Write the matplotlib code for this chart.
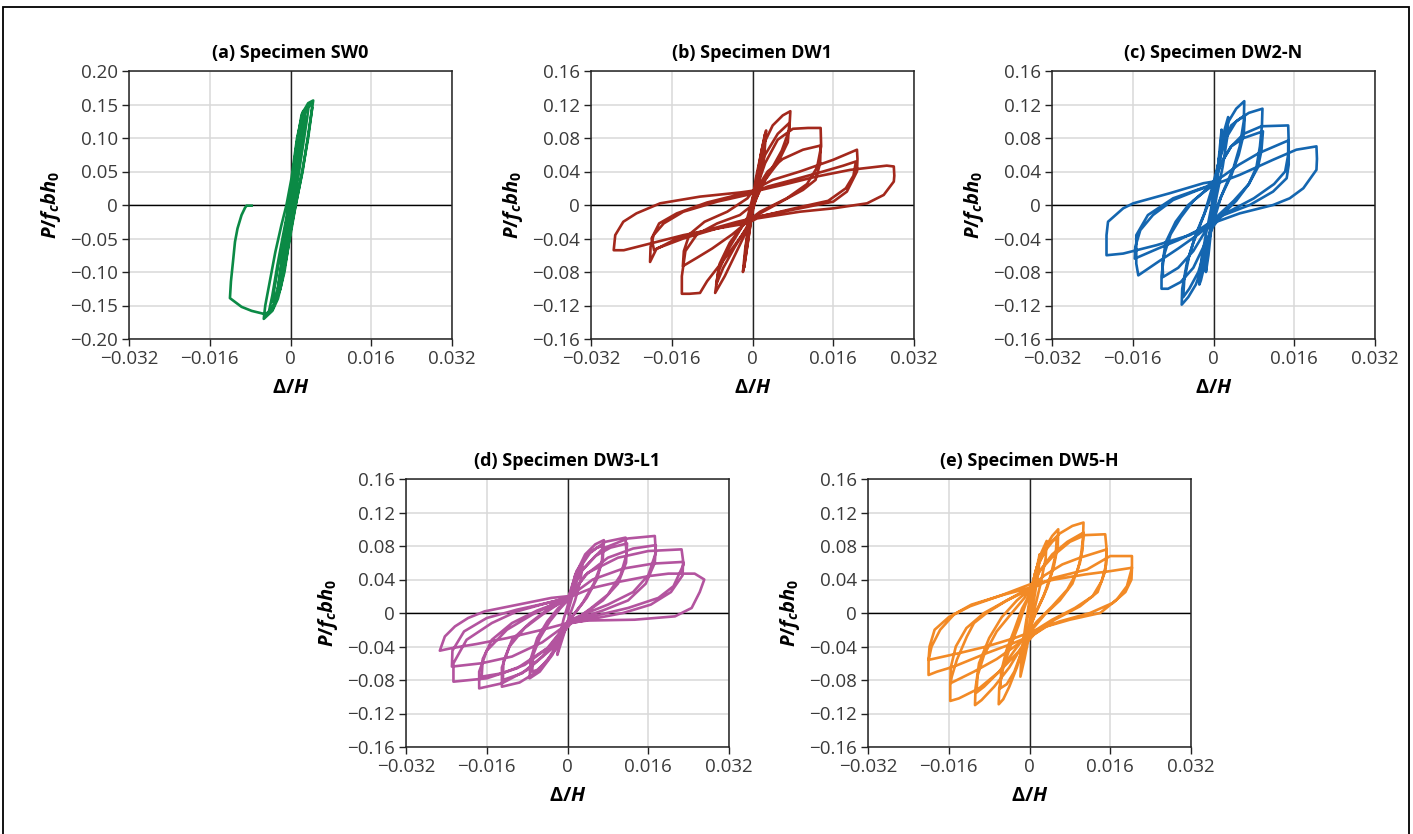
import numpy as np
import matplotlib
matplotlib.use("Agg")
import matplotlib.pyplot as plt
from matplotlib.patches import Rectangle

plt.rcParams['font.family'] = ['Open Sans', 'DejaVu Sans']
plt.rcParams['mathtext.fontset'] = 'custom'
plt.rcParams['mathtext.it'] = 'Open Sans:italic:bold'
plt.rcParams['mathtext.rm'] = 'Open Sans:bold'
plt.rcParams['mathtext.bf'] = 'Open Sans:bold'

# drift ratio in thousandths (x 1e-3), normalised load P/(fc b h0)
sw0_x = [0, 0.6, 0.9, 0.5, 0, -0.5, -1.0, -0.6, 0,
         0.8, 1.5, 1.3, 0.6, -0.2, -1.0, -1.7, -1.4, -0.5, 0.2,
         1.0, 1.8, 2.2, 2.0, 1.2, 0.3, -0.6, -1.5, -2.3, -2.5, -2.0, -1.2, -0.3, 0.4,
         1.2, 2.0, 2.8, 2.9, 2.2, 1.4, 0.5, -0.5, -1.5, -2.5, -3.4, -3.3, -2.4, -1.4, -0.5, 0.3,
         1.2, 2.2, 3.3, 3.6, 3.3, 2.5, 1.5, 0.6, -0.3, -1.5, -2.8, -4.0, -4.3, -3.6, -2.6, -1.6, -0.7, 0.2,
         1.2, 2.2, 3.5, 4.5, 4.2, 3.6, 2.4, 1.0, 0.0, -1.2, -2.5, -3.6, -5.3, -5.0, -4.0, -3.0, -1.8, -0.8, 0.2,
         1.3, 2.5, 4.0, 4.3, 3.5, 2.2, 0.8, -0.6, -2.0, -3.5, -5.0,
         -7.7, -9.7, -12.0, -11.8, -11.4, -11.0, -10.5, -9.7, -9.0, -8.7, -7.7]
sw0_y = [0, 0.03, 0.05, 0.03, 0.005, -0.02, -0.045, -0.03, -0.005,
         0.04, 0.08, 0.06, 0.03, -0.01, -0.05, -0.085, -0.065, -0.025, 0.01,
         0.06, 0.1, 0.115, 0.095, 0.055, 0.01, -0.03, -0.075, -0.115, -0.125, -0.1, -0.06, -0.015, 0.02,
         0.07, 0.11, 0.135, 0.125, 0.09, 0.05, 0.005, -0.04, -0.085, -0.125, -0.145, -0.13, -0.09, -0.05, -0.01, 0.025,
         0.08, 0.125, 0.145, 0.148, 0.13, 0.09, 0.04, 0.0, -0.04, -0.095, -0.14, -0.158, -0.16, -0.135, -0.09, -0.05, -0.015, 0.03,
         0.09, 0.135, 0.152, 0.156, 0.14, 0.11, 0.05, 0.0, -0.04, -0.1, -0.14, -0.158, -0.17, -0.15, -0.11, -0.07, -0.03, 0.0, 0.04,
         0.1, 0.14, 0.15, 0.145, 0.1, 0.045, -0.01, -0.07, -0.125, -0.155, -0.163,
         -0.158, -0.152, -0.139, -0.114, -0.085, -0.055, -0.035, -0.015, -0.004, -0.001, -0.001]

dw1_x = [0, 1.0, 2.0, 2.7, 2.4, 1.2, 0, -0.8, -1.6, -1.9, -1.4, -0.4,
         0.8, 1.8, 2.5, 2.2, 1.0, -0.2, -1.2, -1.7, -1.2, -0.2,
         0.6, 2.0, 4.0, 6.0, 7.5, 7.3, 5.8, 3.5, 1.5, 0, -1.5, -3.5, -5.5, -7.4, -6.8, -5.0, -3.0, -1.0,
         0.5, 2.5, 5.0, 7.3, 7.0, 5.0, 2.5, 0.5, -1.0, -3.5, -5.8, -7.2, -6.5, -4.5, -2.0, -0.3,
         0.5, 2.5, 5.0, 8.0, 11.0, 13.5, 13.6, 12.8, 10.8, 6.8, 1.5, 0, -1.1, -5.0, -9.0, -10.4, -12.5, -14.0, -14.0, -13.3, -11.0, -7.0, -2.5, 0,
         0.9, 3.0, 6.0, 10.0, 13.5, 13.4, 12.5, 10.0, 6.0, 1.5, -1.0, -4.0, -8.0, -11.0, -13.8, -13.6, -12.5, -9.5, -5.0, -1.0,
         0.2, 4.0, 9.4, 16.0, 20.7, 20.8, 20.7, 18.7, 16.0, 9.4, 1.0, -1.5, -7.0, -13.7, -19.0, -20.3, -20.2, -19.6, -17.6, -13.7, -7.0, -1.1,
         3.0, 8.0, 14.0, 18.0, 20.5, 20.0, 18.5, 15.0, 9.0, 2.0, -3.0, -9.0, -15.0, -19.5, -20.0, -18.5, -15.0, -9.0, -3.0,
         0.2, 6.0, 12.7, 19.4, 26.6, 28.0, 28.1, 28.0, 26.0, 22.7, 16.0, 9.4, 0.9, -1.1, -7.0, -13.7, -20.3, -25.5, -27.5, -27.2, -25.6, -23.0, -18.3, -10.4, -2.4, 0]
dw1_y = [0, 0.035, 0.07, 0.089, 0.065, 0.025, -0.005, -0.04, -0.072, -0.08, -0.05, -0.01,
         0.03, 0.065, 0.085, 0.06, 0.02, -0.015, -0.055, -0.075, -0.045, -0.005,
         0.03, 0.07, 0.095, 0.107, 0.112, 0.09, 0.065, 0.04, 0.02, -0.005, -0.035, -0.06, -0.085, -0.105, -0.08, -0.055, -0.035, -0.015,
         0.02, 0.06, 0.085, 0.098, 0.075, 0.05, 0.03, 0.005, -0.025, -0.05, -0.075, -0.095, -0.07, -0.045, -0.025, -0.01,
         0.015, 0.05, 0.078, 0.091, 0.092, 0.092, 0.07, 0.045, 0.025, 0.008, -0.008, -0.015, -0.028, -0.06, -0.091, -0.105, -0.106, -0.106, -0.085, -0.055, -0.035, -0.022, -0.012, 0.0,
         0.02, 0.04, 0.055, 0.066, 0.071, 0.05, 0.03, 0.018, 0.005, -0.01, -0.02, -0.035, -0.052, -0.063, -0.073, -0.055, -0.035, -0.02, -0.008, 0.008,
         0.018, 0.03, 0.04, 0.054, 0.066, 0.055, 0.04, 0.016, 0.004, -0.004, -0.014, -0.02, -0.028, -0.04, -0.052, -0.068, -0.05, -0.036, -0.022, -0.008, 0.004, 0.012,
         0.022, 0.03, 0.04, 0.047, 0.052, 0.035, 0.02, 0.005, -0.003, -0.013, -0.02, -0.03, -0.04, -0.054, -0.04, -0.022, -0.01, 0.003, 0.012,
         0.016, 0.024, 0.034, 0.042, 0.047, 0.046, 0.035, 0.028, 0.012, 0.002, -0.004, -0.008, -0.016, -0.022, -0.028, -0.036, -0.046, -0.054, -0.054, -0.036, -0.02, -0.01, 0.002, 0.01, 0.015, 0.017]

dw2_x = [0, 0.8, 1.6, 1.4, 0.5, -0.3, -1.0, -1.5, -1.2, -0.4, 0.3,
         1.2, 2.2, 2.9, 2.7, 1.8, 0.6, -0.5, -1.5, -2.5, -2.8, -2.4, -1.5, -0.5, 0.3,
         1.5, 3.0, 4.5, 6.1, 6.0, 5.2, 4.0, 2.2, 0.5, -0.8, -2.0, -3.5, -5.0, -6.3, -6.2, -5.3, -4.0, -2.4, -0.8, 0.3,
         1.8, 3.5, 5.0, 6.2, 6.0, 5.0, 3.5, 1.5, 0, -1.5, -3.0, -4.8, -6.0, -5.8, -4.8, -3.5, -1.8, -0.3,
         1.0, 2.5, 4.5, 7.0, 9.7, 9.6, 9.2, 8.5, 7.0, 4.5, 2.0, 0, -2.0, -4.0, -6.5, -9.0, -10.3, -10.3, -9.8, -8.5, -6.5, -4.0, -1.5, 0,
         1.5, 3.5, 6.0, 9.8, 9.5, 8.8, 7.0, 4.0, 1.0, -1.5, -4.0, -7.0, -10.0, -10.1, -9.5, -7.5, -5.0, -2.0, 0,
         1.5, 3.5, 6.0, 9.5, 14.8, 14.9, 14.9, 14.5, 11.8, 7.2, 2.0, 0, -3.0, -7.0, -11.0, -14.9, -15.3, -15.3, -13.0, -8.0, -1.4,
         2.0, 5.0, 9.0, 14.8, 14.8, 14.2, 12.0, 8.0, 3.0, 0, -3.0, -7.0, -11.0, -15.6, -15.5, -14.5, -12.0, -8.0, -3.0, 0,
         5.2, 11.8, 16.4, 20.4, 20.5, 20.4, 17.8, 15.1, 11.8, 5.2, 0.6, -4.7, -11.3, -17.9, -21.2, -21.2, -20.9, -17.9, -15.9, -8.7, -2.0, 0]
dw2_y = [0, 0.04, 0.09, 0.06, 0.02, -0.02, -0.06, -0.08, -0.055, -0.015, 0.02,
         0.06, 0.09, 0.105, 0.08, 0.045, 0.01, -0.03, -0.065, -0.09, -0.095, -0.065, -0.035, -0.005, 0.025,
         0.07, 0.1, 0.115, 0.124, 0.1, 0.07, 0.045, 0.02, -0.005, -0.035, -0.07, -0.095, -0.11, -0.119, -0.1, -0.07, -0.045, -0.02, 0.005, 0.03,
         0.07, 0.095, 0.102, 0.107, 0.085, 0.06, 0.035, 0.01, -0.02, -0.05, -0.08, -0.1, -0.11, -0.09, -0.06, -0.035, -0.01, 0.02,
         0.05, 0.08, 0.1, 0.11, 0.115, 0.095, 0.07, 0.045, 0.025, 0.005, -0.01, -0.025, -0.05, -0.075, -0.092, -0.1, -0.1, -0.085, -0.06, -0.035, -0.015, 0.005, 0.018, 0.025,
         0.05, 0.07, 0.08, 0.088, 0.065, 0.045, 0.025, 0.005, -0.012, -0.03, -0.055, -0.075, -0.086, -0.07, -0.045, -0.02, 0.0, 0.015, 0.024,
         0.05, 0.07, 0.085, 0.094, 0.095, 0.075, 0.048, 0.032, 0.016, 0.0, -0.012, -0.02, -0.035, -0.052, -0.068, -0.084, -0.07, -0.036, -0.012, 0.008, 0.022,
         0.035, 0.048, 0.062, 0.077, 0.06, 0.04, 0.025, 0.008, -0.008, -0.018, -0.03, -0.042, -0.052, -0.064, -0.05, -0.03, -0.012, 0.006, 0.018, 0.024,
         0.036, 0.054, 0.066, 0.07, 0.055, 0.042, 0.02, 0.008, 0.0, -0.01, -0.02, -0.036, -0.048, -0.058, -0.06, -0.036, -0.02, -0.004, 0.002, 0.014, 0.026, 0.028]

dw3_x = [0, 1.2, 2.2, 3.0, 2.6, 1.5, 0.3, -0.7, -1.6, -2.0, -1.6, -0.8, 0,
         1.5, 3.5, 5.5, 7.2, 7.0, 5.8, 3.8, 1.5, 0, -1.8, -4.0, -6.0, -7.0, -6.8, -5.5, -3.5, -1.5, 0,
         1.8, 4.0, 5.8, 7.0, 6.8, 5.2, 3.0, 0.8, -1.0, -3.0, -5.5, -7.5, -7.3, -6.0, -4.0, -1.8, 0,
         2.0, 4.5, 7.5, 11.5, 11.7, 10.5, 8.0, 4.5, 1.5, 0, -2.5, -6.0, -9.5, -13.0, -13.0, -11.5, -8.5, -5.0, -2.0, 0,
         2.5, 5.5, 8.5, 11.8, 11.6, 10.0, 7.0, 3.5, 1.0, -1.5, -5.0, -9.0, -12.8, -12.7, -11.0, -7.5, -4.0, -1.5, 0,
         3.0, 7.0, 12.0, 17.3, 17.5, 16.0, 13.0, 8.0, 3.0, 0, -3.0, -8.0, -13.0, -17.5, -17.5, -16.0, -12.0, -7.0, -3.0, 0,
         3.5, 8.0, 13.0, 17.5, 17.3, 15.5, 12.0, 7.0, 2.5, 0, -3.5, -8.5, -13.0, -17.0, -16.8, -15.0, -11.0, -6.0, -2.0, 0,
         4.0, 10.0, 16.0, 22.6, 23.0, 21.0, 18.0, 12.0, 5.0, 0, -4.0, -10.0, -16.0, -22.6, -22.6, -20.0, -15.0, -10.0, -4.0, 0,
         5.0, 11.0, 17.0, 22.9, 22.8, 20.5, 16.5, 11.0, 5.0, 0, -5.0, -11.0, -17.0, -22.9, -22.8, -20.5, -16.0, -10.0, -4.0, 0,
         5.0, 10.0, 16.0, 20.0, 25.2, 27.1, 26.2, 24.6, 21.3, 13.3, 4.0, 0, -5.0, -12.0, -18.0, -23.0, -25.3, -24.3, -22.3, -19.7, -16.4, -9.8, -3.2, 0]
dw3_y = [0, 0.025, 0.048, 0.06, 0.04, 0.015, -0.005, -0.025, -0.042, -0.05, -0.03, -0.008, 0.008,
         0.045, 0.07, 0.082, 0.087, 0.065, 0.04, 0.018, 0.0, -0.012, -0.035, -0.057, -0.068, -0.07, -0.05, -0.03, -0.01, 0.005, 0.015,
         0.05, 0.07, 0.078, 0.08, 0.06, 0.035, 0.012, -0.005, -0.02, -0.05, -0.07, -0.078, -0.055, -0.03, -0.01, 0.006, 0.015,
         0.05, 0.072, 0.085, 0.09, 0.07, 0.045, 0.022, 0.005, -0.008, -0.015, -0.045, -0.07, -0.083, -0.088, -0.065, -0.04, -0.018, -0.002, 0.01, 0.016,
         0.048, 0.068, 0.078, 0.083, 0.06, 0.035, 0.015, 0.0, -0.01, -0.028, -0.052, -0.072, -0.08, -0.058, -0.032, -0.012, 0.004, 0.012, 0.017,
         0.052, 0.077, 0.089, 0.092, 0.072, 0.045, 0.025, 0.01, -0.002, -0.01, -0.042, -0.068, -0.084, -0.09, -0.07, -0.045, -0.02, -0.002, 0.01, 0.016,
         0.045, 0.066, 0.077, 0.081, 0.06, 0.035, 0.015, 0.003, -0.006, -0.012, -0.04, -0.062, -0.072, -0.076, -0.055, -0.032, -0.012, 0.003, 0.012, 0.017,
         0.048, 0.066, 0.074, 0.076, 0.058, 0.032, 0.018, 0.006, -0.004, -0.012, -0.042, -0.066, -0.078, -0.082, -0.06, -0.032, -0.012, 0.002, 0.012, 0.018,
         0.04, 0.053, 0.059, 0.061, 0.045, 0.025, 0.01, 0.0, -0.007, -0.013, -0.035, -0.052, -0.06, -0.064, -0.045, -0.022, -0.006, 0.004, 0.012, 0.018,
         0.03, 0.037, 0.044, 0.047, 0.047, 0.04, 0.025, 0.006, -0.004, -0.008, -0.009, -0.012, -0.02, -0.03, -0.037, -0.042, -0.045, -0.028, -0.016, -0.006, 0.002, 0.01, 0.018, 0.02]

dw5_x = [0, 0.8, 1.5, 2.0, 1.8, 1.0, 0.2, -0.5, -1.2, -1.5, -1.2, -0.5, 0,
         1.0, 2.2, 3.4, 3.2, 2.2, 1.0, 0, -1.0, -1.8, -1.6, -0.8, 0,
         1.2, 2.8, 4.5, 5.7, 5.6, 4.8, 3.5, 2.0, 0.5, -1.0, -2.5, -4.0, -5.2, -6.1, -6.0, -5.2, -3.8, -2.2, -0.8, 0,
         1.5, 3.2, 4.5, 5.4, 5.2, 4.2, 2.8, 1.2, 0, -1.5, -3.0, -4.5, -5.8, -5.6, -4.6, -3.0, -1.5, 0,
         1.5, 3.5, 6.0, 8.5, 10.7, 10.6, 10.0, 8.5, 6.0, 3.0, 0.5, -1.5, -4.0, -7.0, -9.5, -10.8, -10.7, -10.0, -8.0, -5.5, -2.5, 0,
         2.0, 4.5, 7.5, 10.7, 10.5, 9.5, 7.5, 4.5, 1.5, -0.5, -3.0, -6.0, -9.0, -10.5, -10.3, -9.0, -6.5, -3.5, -1.0, 0,
         2.0, 5.0, 8.0, 11.0, 15.0, 15.3, 15.0, 13.5, 10.0, 5.0, 1.0, -2.0, -6.0, -10.0, -14.0, -15.7, -15.7, -15.4, -14.4, -12.4, -11.0, -8.5, -4.5, 0,
         3.0, 6.5, 10.0, 15.3, 15.2, 14.3, 12.5, 9.0, 4.5, 0.8, -2.5, -6.5, -11.0, -15.7, -15.6, -14.6, -12.5, -9.0, -4.5, 0,
         4.8, 11.4, 16.0, 18.0, 20.3, 20.3, 19.3, 17.3, 14.0, 8.0, 3.4, 0.8, -3.2, -8.5, -15.0, -18.3, -20.0, -20.0, -19.4, -17.7, -15.0, -11.8, -5.2, 0,
         5.0, 11.0, 16.0, 20.3, 20.2, 19.0, 16.5, 12.0, 6.0, 1.5, -3.0, -8.5, -14.0, -20.0, -19.8, -18.8, -16.0, -11.5, -5.0, 0]
dw5_y = [0, 0.03, 0.055, 0.07, 0.05, 0.02, -0.005, -0.03, -0.052, -0.06, -0.04, -0.01, 0.01,
         0.045, 0.07, 0.086, 0.065, 0.035, 0.005, -0.025, -0.055, -0.076, -0.05, -0.015, 0.015,
         0.05, 0.075, 0.092, 0.1, 0.08, 0.055, 0.03, 0.01, -0.01, -0.035, -0.065, -0.088, -0.103, -0.109, -0.09, -0.065, -0.04, -0.015, 0.01, 0.022,
         0.055, 0.075, 0.085, 0.09, 0.07, 0.045, 0.02, 0.0, -0.02, -0.045, -0.07, -0.085, -0.09, -0.07, -0.045, -0.02, 0.005, 0.022,
         0.055, 0.08, 0.095, 0.104, 0.108, 0.088, 0.06, 0.035, 0.015, -0.002, -0.02, -0.04, -0.065, -0.088, -0.104, -0.11, -0.09, -0.06, -0.03, -0.005, 0.015, 0.028,
         0.05, 0.07, 0.085, 0.096, 0.075, 0.05, 0.028, 0.008, -0.01, -0.025, -0.045, -0.07, -0.088, -0.095, -0.075, -0.05, -0.022, 0.0, 0.018, 0.028,
         0.05, 0.07, 0.085, 0.093, 0.094, 0.075, 0.05, 0.025, 0.008, -0.008, -0.025, -0.045, -0.07, -0.09, -0.102, -0.105, -0.085, -0.076, -0.056, -0.028, -0.012, 0.0, 0.015, 0.03,
         0.045, 0.058, 0.066, 0.076, 0.058, 0.038, 0.02, 0.006, -0.008, -0.022, -0.038, -0.055, -0.07, -0.084, -0.065, -0.04, -0.018, 0.0, 0.015, 0.028,
         0.042, 0.052, 0.068, 0.068, 0.068, 0.054, 0.032, 0.016, 0.0, -0.008, -0.016, -0.026, -0.036, -0.048, -0.064, -0.07, -0.074, -0.056, -0.04, -0.02, -0.002, 0.008, 0.022, 0.034,
         0.04, 0.046, 0.05, 0.054, 0.04, 0.025, 0.012, 0.0, -0.01, -0.02, -0.03, -0.04, -0.048, -0.056, -0.04, -0.02, -0.005, 0.01, 0.022, 0.03]

titles = ['(a) Specimen SW0', '(b) Specimen DW1', '(c) Specimen DW2-N',
          '(d) Specimen DW3-L1', '(e) Specimen DW5-H']
colors = ['#0b8a45', '#a3281c', '#1466b0', '#b3549f', '#f28a26']
x_ticks = [-0.032, -0.016, 0, 0.016, 0.032]
x_labels = ['\u22120.032', '\u22120.016', '0', '0.016', '0.032']
y_ticks_a = [-0.20, -0.15, -0.10, -0.05, 0, 0.05, 0.10, 0.15, 0.20]
y_labels_a = ['\u22120.20', '\u22120.15', '\u22120.10', '\u22120.05', '0', '0.05', '0.10', '0.15', '0.20']
y_ticks = [-0.16, -0.12, -0.08, -0.04, 0, 0.04, 0.08, 0.12, 0.16]
y_labels = ['\u22120.16', '\u22120.12', '\u22120.08', '\u22120.04', '0', '0.04', '0.08', '0.12', '0.16']

series = [(sw0_x, sw0_y), (dw1_x, dw1_y), (dw2_x, dw2_y), (dw3_x, dw3_y), (dw5_x, dw5_y)]

W, H = 1413, 834
fig = plt.figure(figsize=(W / 100, H / 100), dpi=100)

# axes boxes in pixels: left, top
boxes = [(129, 71), (591, 71), (1052, 71), (406, 479), (868, 479)]
aw, ah = 323, 268

for i, (left, top) in enumerate(boxes):
    ax = fig.add_axes([left / W, (H - top - ah) / H, aw / W, ah / H])
    x, y = series[i]
    ax.plot(np.array(x) * 1e-3, y, color=colors[i], lw=1.9, solid_joinstyle='round', zorder=3)
    ax.axhline(0, color='black', lw=1.0, zorder=2)
    ax.axvline(0, color='#222222', lw=1.0, zorder=2)
    ax.set_xlim(-0.032, 0.032)
    ax.set_xticks(x_ticks, x_labels)
    if i == 0:
        ax.set_ylim(-0.20, 0.20)
        ax.set_yticks(y_ticks_a, y_labels_a)
    else:
        ax.set_ylim(-0.16, 0.16)
        ax.set_yticks(y_ticks, y_labels)
    ax.grid(True, color='#d9d9d9', lw=1.1, zorder=0)
    ax.set_axisbelow(True)
    for s in ax.spines.values():
        s.set_color('#222222')
        s.set_linewidth(1.1)
    ax.tick_params(direction='out', length=5, width=1, color='#222222',
                   labelsize=13.5, labelcolor='#3a3a3a', pad=3)
    ax.set_title(titles[i], fontsize=13, fontweight='bold', pad=9)
    ax.set_xlabel(r'$\Delta/H$', fontsize=14.5, labelpad=7)
    ax.set_ylabel(r'$P/f_cbh_0$', fontsize=14.5, labelpad=5)

# outer frame
fig.add_artist(Rectangle((3 / W, -0.05), 1406 / W, 1.05 - 7 / H, transform=fig.transFigure,
                         fill=False, edgecolor='black', lw=1.3))

fig.savefig('out.png', dpi=100)
